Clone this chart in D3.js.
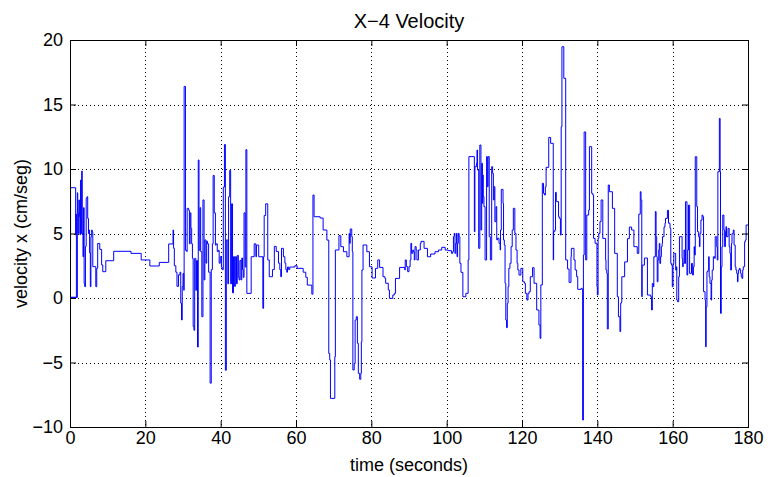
<!DOCTYPE html>
<html>
<head>
<meta charset="utf-8">
<script src="https://cdn.jsdelivr.net/npm/d3@7"></script>
<style>
body{margin:0;background:#fff}
svg text{font-family:"Liberation Sans",Arial,Helvetica,sans-serif;fill:#000}
</style>
</head>
<body>
<div id="chart"></div>
<script>
var titleText = "X\u22124 Velocity"
var xLabel = "time (seconds)"
var yLabel = "velocity x (cm/seg)"
var xTicks = [0,20,40,60,80,100,120,140,160,180]
var yTicks = [-10,-5,0,5,10,15,20]

// [time (s), velocity x] held until next sample
var steps = [
 [0.15,3.7],[0.15,8.55],[1.5,4.9],[1.6,6.5],[1.7,4.9],[1.7,0.05],[0.18,0.05],[1.95,8.16],
 [2.05,6.56],[2.2,5.0],[2.35,7.6],[2.5,6.3],[2.65,4.9],[2.8,9.14],[2.95,5.0],[3.1,9.84],
 [3.25,5.0],[3.45,3.2],[3.6,7.0],[3.75,1.13],[3.9,0.88],[4.1,4.0],[4.3,7.72],[4.5,7.85],
 [4.7,6.17],[4.9,5.0],[5.05,5.27],[5.2,3.5],[5.4,0.88],[5.55,4.75],[5.75,5.27],[5.9,5.14],
 [6.05,2.43],[6.85,0.88],[7.1,2.3],[7.35,4.23],[7.9,3.77],[8.4,2.56],[8.7,2.04],[9.5,2.89],
 [11.6,3.62],[16.2,3.46],[18.9,2.95],[21.2,2.48],[23.7,2.76],[26.2,4.19],[27.35,5.27],
 [27.5,3.85],[27.7,2.5],[28.1,2.0],[28.4,0.9],[28.8,1.8],[29.2,2.0],[29.4,-0.4],[29.6,-1.7],
 [29.8,0.9],[30.0,1.9],[30.2,0.6],[30.3,16.4],[30.65,3.7],[31.0,3.6],[31.1,6.95],[31.5,6.8],
 [31.7,4.2],[31.9,6.6],[32.1,5.4],[32.3,4.2],[32.5,3.07],[32.7,-2.2],[32.9,-2.5],[33.1,3.07],
 [33.4,0.6],[33.6,2.9],[33.85,-3.8],[34.05,10.7],[34.25,3.7],[34.5,7.0],[34.7,3.6],[35.0,-1.45],
 [35.3,7.6],[35.6,1.4],[35.8,4.5],[36.1,2.7],[36.3,4.4],[36.5,4.2],[36.8,2.0],[37.2,-6.6],
 [37.5,2.2],[37.8,4.2],[38.0,9.5],[38.3,6.6],[38.6,4.1],[38.8,4.2],[39.1,3.6],[39.4,3.7],
 [39.6,2.7],[39.9,3.2],[40.2,2.4],[40.4,2.2],[40.7,8.6],[41.0,11.9],[41.25,-5.6],[41.5,4.5],
 [41.9,1.1],[42.1,7.85],[42.4,9.9],[42.65,1.1],[42.9,7.3],[43.15,0.4],[43.4,3.2],[43.7,0.9],
 [43.9,3.2],[44.2,1.1],[44.4,3.3],[44.7,1.6],[44.9,1.4],[45.1,2.9],[45.4,1.4],[45.6,3.1],
 [45.8,2.2],[46.0,1.6],[46.2,6.6],[46.5,2.4],[46.7,11.5],[46.95,0.36],[48.1,3.2],[48.9,4.2],
 [49.35,3.2],[49.5,4.1],[50.1,3.2],[51.2,-0.8],[51.4,3.2],[51.55,6.4],[51.95,7.3],[52.5,2.95],
 [52.9,1.65],[53.75,2.2],[54.25,4.0],[54.75,3.6],[55.35,2.7],[55.7,2.2],[55.95,1.65],[56.15,3.85],
 [56.65,3.2],[57.05,2.7],[57.3,2.2],[57.55,2.0],[57.75,2.4],[58.05,2.2],[58.35,2.4],[59.7,2.5],
 [60.3,2.3],[61.9,2.0],[62.6,1.6],[63.0,1.0],[64.2,0.3],[64.5,7.98],[64.8,6.3],[66.4,6.2],
 [67.2,5.27],[68.2,4.49],[68.7,-4.3],[68.95,-4.8],[69.15,-7.78],[70.3,-4.55],[70.45,3.72],
 [71.4,4.83],[71.9,3.98],[72.6,3.59],[73.5,3.2],[74.1,5.0],[74.25,4.24],[74.4,5.35],[74.8,4.75],
 [74.95,3.6],[75.1,-5.58],[75.45,-5.07],[75.7,-1.71],[76.0,-1.45],[76.3,-3.51],[76.55,-5.84],
 [76.9,-6.3],[77.2,-5.84],[77.35,-3.39],[77.5,2.17],[77.8,4.11],[78.8,3.59],[79.5,2.42],
 [80.2,1.55],[81.1,2.3],[81.7,2.95],[82.2,2.37],[83.1,1.65],[83.6,1.52],[83.8,1.14],[84.5,0.62],
 [84.8,-0.03],[85.7,0.23],[86.1,0.36],[86.4,1.52],[87.5,2.37],[88.9,2.17],[89.0,2.95],[89.3,2.43],
 [89.65,2.04],[90.0,2.43],[90.3,2.95],[90.5,4.24],[90.7,3.46],[91.0,3.72],[91.2,3.59],[91.4,2.95],
 [91.6,3.98],[91.9,3.72],[92.1,2.95],[92.5,3.72],[93.0,4.24],[93.2,4.39],[94.0,3.85],[94.9,3.2],
 [95.75,3.41],[96.9,3.59],[97.8,3.72],[98.7,3.93],[99.6,3.72],[100.4,3.67],[101.3,3.46],
 [101.6,3.59],[101.8,4.75],[102.0,5.01],[102.2,3.46],[102.4,4.24],[102.6,5.01],[102.75,3.2],
 [102.9,4.24],[103.1,5.01],[103.3,4.75],[103.5,2.69],[103.8,1.99],[104.3,0.1],[105.1,0.36],
 [105.7,2.95],[105.9,10.96],[107.35,5.14],[107.5,10.18],[107.9,10.44],[108.05,11.47],[108.2,9.92],
 [108.5,3.85],[108.8,11.86],[109.1,5.27],[109.3,10.44],[109.5,7.34],[109.6,9.53],[109.7,7.86],
 [109.9,7.08],[110.2,2.95],[110.6,10.96],[110.8,8.63],[111.0,10.96],[111.3,4.75],[111.6,2.95],
 [111.95,10.18],[112.2,9.66],[112.4,7.6],[112.6,8.63],[112.8,5.92],[113.1,7.08],[113.3,4.5],
 [113.5,4.63],[113.9,4.24],[114.2,3.72],[114.3,5.27],[114.5,8.42],[114.96,7.34],[115.1,4.5],
 [115.3,4.11],[115.5,1.14],[115.7,-1.71],[115.9,-2.3],[116.1,-0.41],[116.3,0.88],[116.5,2.3],
 [116.8,2.69],[117.1,3.98],[117.4,5.27],[117.7,6.95],[118.1,5.01],[118.4,3.72],[118.7,2.69],
 [118.9,2.17],[119.2,1.78],[119.7,2.3],[120.2,1.26],[120.65,1.14],[120.9,0.36],[121.3,-0.16],
 [121.6,0.36],[121.9,0.49],[122.2,1.65],[122.8,2.35],[123.2,1.14],[123.9,-0.93],[124.5,-2.09],
 [124.8,-3.13],[125.0,1.01],[125.4,8.89],[125.7,8.11],[126.0,7.98],[126.2,8.63],[126.4,10.13],
 [127.1,12.45],[127.6,11.99],[128.3,2.95],[128.4,5.14],[128.7,5.27],[128.9,8.19],[129.1,7.47],
 [129.7,6.3],[129.9,6.17],[130.2,4.88],[130.4,13.28],[130.6,19.48],[131.1,17.03],[131.6,2.95],
 [132.1,2.25],[132.5,1.21],[133.0,3.2],[133.1,3.85],[133.8,2.95],[134.1,2.17],[134.5,1.65],
 [134.8,0.67],[135.7,0.75],[136.0,0.62],[136.1,-9.46],[136.3,3.33],[136.5,12.87],[136.9,2.95],
 [137.2,6.43],[137.7,6.82],[137.9,11.73],[138.5,8.11],[138.8,7.98],[139.0,4.62],[139.4,4.24],
 [139.9,0.88],[140.0,0.23],[140.2,4.62],[140.4,5.01],[140.7,5.92],[141.0,7.6],[141.45,4.62],
 [142.2,2.95],[142.3,2.17],[142.5,1.91],[142.65,-2.4],[142.9,8.76],[143.2,8.24],[144.0,6.95],
 [144.6,3.46],[145.3,0.1],[145.6,-1.45],[146.0,-2.6],[146.2,-0.4],[146.4,-0.3],[146.5,1.65],
 [147.25,2.8],[148.0,4.6],[148.5,5.5],[149.1,5.27],[149.7,3.98],[150.6,3.46],[151.0,6.5],
 [151.4,8.24],[151.6,7.6],[151.8,0.1],[151.9,2.55],[152.5,3.1],[153.3,0.23],[154.15,0.1],
 [154.4,-0.93],[154.6,1.13],[154.9,0.87],[155.0,3.2],[155.4,6.7],[155.6,4.75],[155.75,3.2],
 [155.9,1.26],[156.1,2.94],[156.3,3.72],[156.45,4.23],[156.6,2.68],[156.8,3.2],[157.0,3.98],
 [157.2,4.23],[157.3,4.75],[157.7,5.5],[157.96,5.8],[158.1,6.17],[158.6,6.8],[158.9,5.8],
 [159.3,5.4],[159.5,2.68],[159.7,2.55],[159.9,0.87],[160.1,2.68],[160.3,3.46],[160.8,2.17],
 [161.0,2.42],[161.1,-0.16],[161.3,-0.29],[161.6,1.65],[161.8,4.75],[162.5,3.07],[162.65,2.42],
 [162.8,2.68],[163.0,3.72],[163.2,2.68],[163.4,7.46],[163.8,1.78],[164.0,3.72],[164.2,7.2],
 [164.5,1.91],[165.0,2.68],[165.3,1.78],[165.5,2.42],[165.7,3.98],[165.8,3.33],[166.0,10.95],
 [166.4,7.08],[166.6,5.14],[166.9,4.75],[167.1,3.98],[167.25,5.01],[167.5,6.04],[167.8,6.43],
 [168.0,6.3],[168.2,0.49],[168.6,-0.16],[168.75,-3.78],[168.9,-0.68],[169.1,2.04],[169.4,2.17],
 [169.55,3.2],[169.7,1.65],[169.9,1.13],[170.2,-0.16],[170.35,1.39],[170.5,2.17],[170.8,3.2],
 [171.15,3.07],[171.3,4.75],[171.7,3.98],[171.85,2.94],[172.0,9.79],[172.4,13.92],[172.6,9.79],
 [172.7,-1.19],[172.9,2.42],[173.1,3.98],[173.3,6.43],[173.6,5.27],[173.8,3.98],[174.0,5.14],
 [174.15,5.53],[174.3,4.75],[174.7,5.4],[175.0,3.98],[175.2,3.46],[175.4,2.17],[175.6,4.23],
 [175.75,4.99],[176.1,5.27],[176.3,4.1],[176.6,2.42],[176.8,2.17],[177.0,1.91],[177.2,1.26],
 [177.35,1.91],[177.5,2.17],[177.7,2.3],[177.9,2.17],[178.05,1.91],[178.2,1.65],[178.4,1.52],
 [178.6,2.17],[178.75,2.42],[179.1,4.36],[179.3,4.49],[179.5,5.66],[180,5.66]
]

var W=777, H=477
var mLeft=70, mRight=748, mTop=40, mBottom=427

var svg=d3.select('#chart').append('svg')
    .attr('width',W)
    .attr('height',H)

var x=d3.scaleLinear().domain([0,180]).range([mLeft,mRight])
var y=d3.scaleLinear().domain([-10,20]).range([mBottom,mTop])

// dotted grid
var grid=svg.append('g').attr('class','grid')
grid.selectAll('line.gx')
    .data(xTicks.slice(1,-1))
    .enter().append('line')
    .attr('class','gx')
    .attr('x1',function(d){return Math.round(x(d))+0.5})
    .attr('x2',function(d){return Math.round(x(d))+0.5})
    .attr('y1',mTop).attr('y2',mBottom)
grid.selectAll('line.gy')
    .data(yTicks.slice(1,-1))
    .enter().append('line')
    .attr('class','gy')
    .attr('y1',function(d){return Math.round(y(d))+0.5})
    .attr('y2',function(d){return Math.round(y(d))+0.5})
    .attr('x1',mLeft).attr('x2',mRight)
grid.selectAll('line')
    .attr('stroke','#000')
    .attr('stroke-width',1)
    .attr('stroke-dasharray','1,3')

// trace
svg.append('clipPath').attr('id','plotclip')
    .append('rect')
    .attr('x',mLeft).attr('y',mTop)
    .attr('width',mRight-mLeft).attr('height',mBottom-mTop)

var trace=d3.line()
    .x(function(d){return x(d[0])})
    .y(function(d){return y(d[1])})
    .curve(d3.curveStepAfter)

svg.append('path')
    .datum(steps)
    .attr('clip-path','url(#plotclip)')
    .attr('fill','none')
    .attr('stroke','#0000ff')
    .attr('stroke-width',1)
    .attr('d',trace)

// axes, ticks inside
var tk=6
function styleAxis(g){
    g.select('.domain').remove()
    g.selectAll('.tick line').attr('stroke','#000')
    g.selectAll('.tick text').attr('font-size','18px')
}
svg.append('g')
    .attr('transform','translate(0,'+mBottom+')')
    .call(d3.axisBottom(x).tickValues(xTicks).tickSizeInner(-tk).tickSizeOuter(0).tickPadding(4))
    .call(styleAxis)
svg.append('g')
    .attr('transform','translate(0,'+mTop+')')
    .call(d3.axisTop(x).tickValues(xTicks).tickSizeInner(-tk).tickSizeOuter(0).tickFormat(''))
    .call(styleAxis)
svg.append('g')
    .attr('transform','translate('+mLeft+',0)')
    .call(d3.axisLeft(y).tickValues(yTicks).tickSizeInner(-tk).tickSizeOuter(0).tickPadding(7))
    .call(styleAxis)
svg.append('g')
    .attr('transform','translate('+mRight+',0)')
    .call(d3.axisRight(y).tickValues(yTicks).tickSizeInner(-tk).tickSizeOuter(0).tickFormat(''))
    .call(styleAxis)

svg.append('rect')
    .attr('x',mLeft+0.5).attr('y',mTop+0.5)
    .attr('width',mRight-mLeft).attr('height',mBottom-mTop)
    .attr('fill','none')
    .attr('stroke','#000')
    .attr('stroke-width',1)

// labels
svg.append('text')
    .attr('x',(mLeft+mRight)/2).attr('y',28)
    .attr('text-anchor','middle')
    .attr('font-size','20px')
    .text(titleText)
svg.append('text')
    .attr('x',(mLeft+mRight)/2).attr('y',471)
    .attr('text-anchor','middle')
    .attr('font-size','18px')
    .text(xLabel)
svg.append('text')
    .attr('transform','translate(27,'+((mTop+mBottom)/2)+') rotate(-90)')
    .attr('text-anchor','middle')
    .attr('font-size','18px')
    .text(yLabel)
</script>
</body>
</html>
